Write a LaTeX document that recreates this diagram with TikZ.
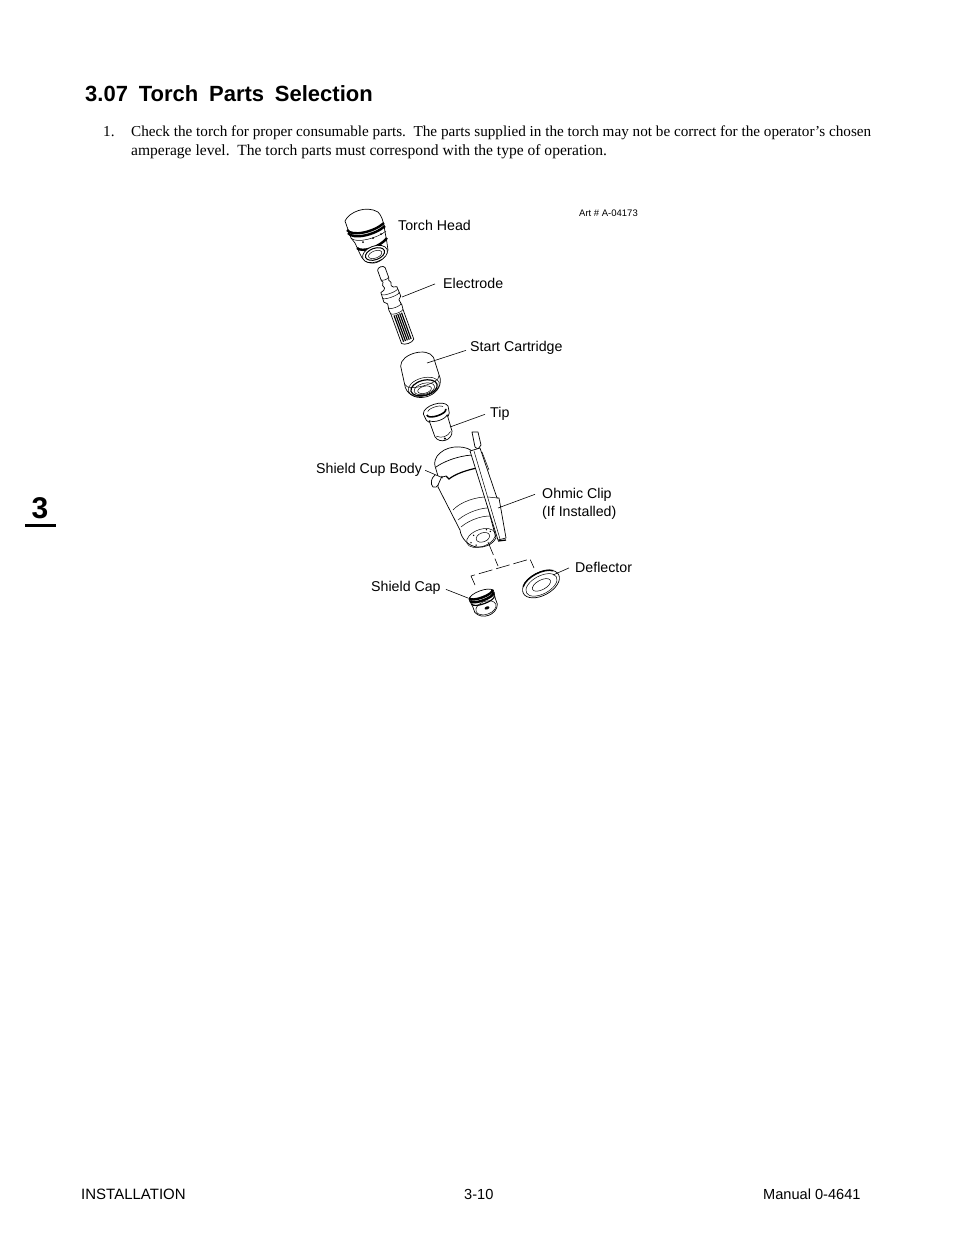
\documentclass[tikz,border=0pt]{standalone}
\usepackage{fontspec}
\setmainfont{Liberation Serif}
\setsansfont{Liberation Sans}
\usetikzlibrary{positioning}
\newcommand{\lowerarc}[4][]{\draw[#1] (-#2,#3) .. controls (-#2,#3+1.33*#4) and (#2,#3+1.33*#4) .. (#2,#3);}
\tikzset{
	label text/.style={font=\sffamily\fontsize{14.2}{18}\selectfont,inner sep=0pt,anchor=base west,align=left},
	foot text/.style={font=\sffamily\fontsize{14.6}{18}\selectfont,inner sep=0pt,anchor=base west},
	body text/.style={font=\fontsize{15.2}{19}\selectfont,inner sep=0pt,anchor=base west},
	part/.style={draw,fill=white,line width=.7pt,line join=round},
	band/.style={line width=2.4pt},
	thin part/.style={line width=.5pt},
	leader/.style={line width=.6pt},
	cut line/.style={line width=.6pt,dash pattern=on 14pt off 4pt}
}
\begin{document}
\begin{tikzpicture}[x=1pt,y=-1pt]
\useasboundingbox (0,0) rectangle (954,1235);
% page text
\node[font=\sffamily\bfseries\fontsize{22}{26}\selectfont,inner sep=0pt,anchor=base west] (title) at (85,101) {3.07\hspace{4.7pt} Torch\hspace{4.7pt} Parts\hspace{4.7pt} Selection};
\node[body text] (num) at (103,136) {1.};
\node[body text] (lineone) at (131,136) {Check the torch for proper consumable parts.\ \ The parts supplied in the torch may not be correct for the operator's chosen};
\node[body text,font=\fontsize{15.55}{19}\selectfont] (linetwo) at (131,155) {amperage level.\ \ The torch parts must correspond with the type of operation.};
\node[font=\sffamily\bfseries\fontsize{30}{32}\selectfont,inner sep=0pt] (chapter) at (40,508) {3};
\draw[line width=3pt] (25,525.5) coordinate (ruleleft) -- (56,525.5) coordinate (ruleright);
\node[foot text,font=\sffamily\fontsize{15}{18}\selectfont] (install) at (81,1199) {INSTALLATION};
\node[foot text] (pageno) at (464,1199) {3-10};
\node[foot text] (manual) at (763,1199) {Manual 0-4641};
% torch head
\draw[part] (345,221) .. controls (349,212) and (366,205) .. (378,212) .. controls (381,215) and (383,220) .. (384,226) -- (387,243) -- (388,250) .. controls (386,258) and (378,264) .. (371,263) .. controls (366,263) and (362,259) .. (360,254) -- (355,243) -- (351,238) -- cycle;
\draw[band] (347,230) .. controls (352,237) and (374,232) .. (384,223);
\draw[band] (348,233) .. controls (353,240) and (375,235) .. (385,226);
\draw[thin part] (351,238) .. controls (356,244) and (378,238) .. (386,231);
\draw[band] (357,248) .. controls (362,253) and (380,247) .. (387,238);
\foreach \px/\py in {363/242,373/238,381/234}
	\fill (\px,\py) circle (1);
\begin{scope}[shift={(375,254)},rotate=20]
	\draw[part] (0,0) ellipse (13 and 8);
	\draw[line width=1pt] (0,0) ellipse (10 and 5.7);
	\draw[thin part] (0,.5) ellipse (7 and 3.6);
\end{scope}
% electrode
\begin{scope}[shift={(381,268)},rotate=20]
	\draw[part] (-4,1) .. controls (-3,-2) and (3,-2) .. (4,1) -- (4,12) -- (3,14) -- (4.5,17) -- (3.5,20) -- (5,22) -- (8.5,23) -- (9,33) -- (6,36) -- (7,42) -- (6.5,47) -- (6.5,78) .. controls (4,81) and (-4,81) .. (-6.5,78) -- (-6.5,47) -- (-7,42) -- (-6,36) -- (-9,33) -- (-8.5,23) -- (-5,22) -- (-3.5,20) -- (-4.5,17) -- (-3,14) -- (-4,12) -- cycle;
	\lowerarc[thin part]{4}{11}{1.5}
	\lowerarc[thin part]{8.5}{25}{2}
	\lowerarc[thin part]{8.7}{29}{2}
	\lowerarc[thin part]{6.5}{40}{2}
	\lowerarc[thin part]{6.5}{46}{2}
	\foreach \gx in {-4,-2,0,2,4}
		\draw[line width=1.15pt] (\gx,49) -- (\gx,77);
\end{scope}
% start cartridge
\begin{scope}[shift={(415,354)},rotate=15]
	\draw[part] (-17,8) .. controls (-14,-4) and (14,-4) .. (17,8) -- (18,30) .. controls (16,49) and (-16,49) .. (-18,30) -- cycle;
	\lowerarc[thin part]{17.5}{27}{6}
	\draw[thin part] (0,34) ellipse (16 and 9);
	\draw[line width=1.2pt] (0,35) ellipse (13.5 and 7.5);
	\draw[thin part] (0,36) ellipse (10.5 and 5.5);
	\draw[thin part] (0,37) ellipse (7 and 3.5);
\end{scope}
% tip
\begin{scope}[shift={(436,411)},rotate=18]
	\draw[part] (-13,-1) .. controls (-11,-9) and (11,-9) .. (13,-1) -- (12,6) .. controls (9,13) and (-9,13) .. (-12,6) -- cycle;
	\lowerarc[line width=1.6pt]{10}{1}{4}
	\draw[thin part] (-8,-2) .. controls (-6,-5) and (6,-5) .. (8,-2);
	\draw[part] (-9.5,7) -- (-9,24) .. controls (-7,33) and (7,33) .. (9,24) -- (9.5,7) .. controls (6,11) and (-6,11) .. (-9.5,7) -- cycle;
	\draw[thin part] (-7.5,24) .. controls (-3,28) and (3,28) .. (7.5,24);
	\fill (0,29) circle (1.2);
\end{scope}
% shield cup body
\draw[part] (438,487) -- (460,530) .. controls (461,538) and (468,546) .. (477,547) .. controls (484,548) and (492,545) .. (496,538) -- (473,452) .. controls (468,446) and (450,444) .. (440,453) .. controls (435,457) and (434,463) .. (435,466) -- (438,476) -- cycle;
\draw[line width=.7pt] (436,467) .. controls (443,462) and (457,456) .. (472,455);
\draw[line width=.7pt] (438,476) .. controls (440,477) and (444,477) .. (446,476);
\draw[line width=1.2pt] (446,476) -- (449,479) .. controls (455,474) and (467,470) .. (477,468);
\draw[thin part] (453,510) .. controls (460,502) and (477,496) .. (490,497);
\draw[thin part] (458,520) .. controls (467,512) and (483,507) .. (491,508);
\draw[thin part] (461,527) .. controls (470,519) and (487,514) .. (493,517);
\begin{scope}[shift={(481,538)},rotate=20]
	\draw[thin part] (0,0) ellipse (15 and 8.5);
	\draw[thin part] (2,0) ellipse (7 and 4.5);
	\foreach \hx/\hy in {-11/1,-7/5,-6/-5,8/-6,11/-3}
		\fill (\hx,\hy) circle (.8);
\end{scope}
\draw[part] (435,475) .. controls (431,478) and (430,484) .. (433,487) .. controls (435,488) and (437,487) .. (438,485) -- (442,476);
% ohmic clip
\draw[part] (472,432) -- (478,432) -- (481,445) -- (478,449) -- (475,447) -- cycle;
\draw[part] (470,451) -- (480,448) -- (497,498) -- (499,498) -- (506,538) -- (498,540) -- cycle;
\draw[thin part] (474,451) -- (500,539);
\draw[thin part] (488,497) -- (498,498);
\draw[thin part] (482,452) -- (489,470);
\draw[line width=1.3pt] (498,541) -- (506,540);
% shield cap
\begin{scope}[shift={(482,597)},rotate=20]
	\draw[part] (-13,-2) .. controls (-11,-8) and (11,-8) .. (13,-2) -- (12,6) -- (12,12) .. controls (8,22) and (-8,22) .. (-12,12) -- (-12,6) -- cycle;
	\lowerarc[band]{12.5}{-3.5}{4}
	\lowerarc[band]{12.5}{-.5}{4}
	\lowerarc[line width=1.2pt]{12}{3}{4}
	\draw[thin part] (0,11.5) ellipse (10.5 and 6.5);
	\fill (1,12) ellipse (2.5 and 1.5);
\end{scope}
% deflector
\begin{scope}[shift={(541,584)},rotate=28]
	\draw[part] (0,0) ellipse (20 and 11.5);
	\draw[thin part] (0,1) ellipse (17 and 9);
	\draw[thin part] (0,1) ellipse (10 and 4.8);
	\draw[line width=1.5pt] (-17,-6) .. controls (-10,-13) and (10,-13) .. (17,-6);
\end{scope}
% dashed lines
\coordinate (nozzle) at (488,542);
\coordinate (junction) at (498,566);
\coordinate (capend) at (471,576);
\coordinate (capdrop) at (475,585);
\coordinate (deflend) at (530,559);
\coordinate (defldrop) at (534,568);
\draw[cut line] (nozzle) -- (junction);
\draw[cut line] (capdrop) -- (capend) -- (deflend) -- (defldrop);
% labels
\node[label text] (head) at (398,230) {Torch Head};
\node[label text] (electrode) at (443,288) {Electrode};
\node[label text] (cartridge) at (470,351) {Start Cartridge};
\node[label text] (tip) at (490,417) {Tip};
\node[label text] (cup) at (316,473) {Shield Cup Body};
\node[label text] (clip) at (542,498) {Ohmic Clip};
\node[label text,below=5pt of clip.south west,anchor=north west] (installed) {(If Installed)};
\node[label text] (deflector) at (575,572) {Deflector};
\node[label text] (cap) at (371,591) {Shield Cap};
\node[font=\sffamily\fontsize{9.5}{11}\selectfont,inner sep=0pt,anchor=west] (art) at (579,213) {Art \# A-04173};
% leader lines
\coordinate (electrodeend) at (402,297);
\coordinate (cartridgeend) at (427,363);
\coordinate (tipend) at (450,427);
\coordinate (cupend) at (443,478);
\coordinate (clipend) at (498,508);
\coordinate (deflectorend) at (553,575);
\coordinate (capleaderend) at (468,598);
\draw[leader] (electrode.west)+(-8,1) -- (electrodeend);
\draw[leader] (cartridge.west)+(-4,3) -- (cartridgeend);
\draw[leader] (tip.west)+(-5,1) -- (tipend);
\draw[leader] (cup.east)+(3,1) -- (cupend);
\draw[leader] (clip.west)+(-7,0) -- (clipend);
\draw[leader] (deflector.west)+(-6,1) -- (deflectorend);
\draw[leader] (cap.east)+(5,2) -- (capleaderend);
\end{tikzpicture}
\end{document}
